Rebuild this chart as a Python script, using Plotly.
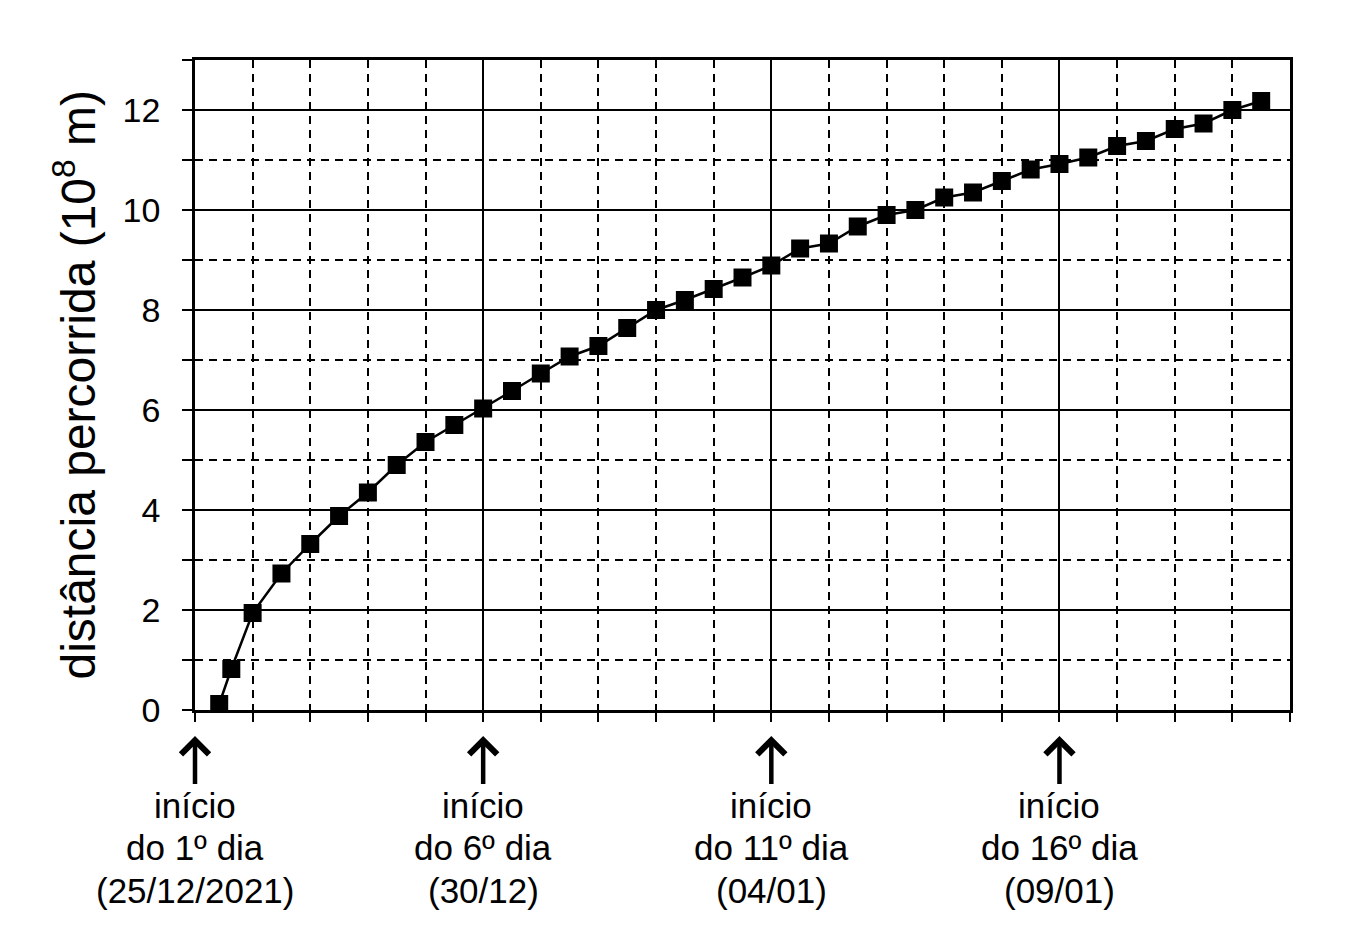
import plotly.graph_objects as go

# Distance travelled (x in days since start, y in 10^8 m)
days = [0.42, 0.63, 1.0, 1.5, 2.0, 2.5, 3.0, 3.5, 4.0, 4.5,
        5.0, 5.5, 6.0, 6.5, 7.0, 7.5, 8.0, 8.5, 9.0, 9.5,
        10.0, 10.5, 11.0, 11.5, 12.0, 12.5, 13.0, 13.5, 14.0, 14.5,
        15.0, 15.5, 16.0, 16.5, 17.0, 17.5, 18.0, 18.5]
distance = [0.12, 0.82, 1.94, 2.73, 3.32, 3.88, 4.35, 4.90, 5.36, 5.70,
            6.03, 6.38, 6.73, 7.07, 7.28, 7.64, 8.00, 8.20, 8.42, 8.65,
            8.89, 9.23, 9.33, 9.67, 9.90, 10.00, 10.25, 10.35, 10.58, 10.81,
            10.92, 11.05, 11.28, 11.38, 11.62, 11.73, 12.00, 12.18]

# Day markers below the x axis, one list of text lines per marker
marker_days = [0, 5, 10, 15]
marker_lines = [
    ["início", "do 1º dia", "(25/12/2021)"],
    ["início", "do 6º dia", "(30/12)"],
    ["início", "do 11º dia", "(04/01)"],
    ["início", "do 16º dia", "(09/01)"],
]

FONT = "Liberation Sans, Arial, sans-serif"

fig = go.Figure()
fig.add_trace(go.Scatter(
    x=days, y=distance,
    mode="lines+markers",
    line=dict(color="black", width=2.5),
    marker=dict(symbol="square", size=18, color="black"),
    cliponaxis=False,
))

axis_common = dict(
    showline=True, linecolor="black", linewidth=2.5, mirror=True,
    showgrid=True, gridcolor="black", gridwidth=2,
    ticks="outside", tickcolor="black", tickwidth=2,
    zeroline=False,
    tickfont=dict(family=FONT, size=34, color="black"),
)

fig.update_xaxes(
    **axis_common,
    range=[0, 19], dtick=5, tick0=0, ticklen=9,
    showticklabels=False,
    minor=dict(dtick=1, tick0=0, showgrid=True, gridcolor="black", gridwidth=1.8,
               griddash="8px,6px", ticks="outside", ticklen=9, tickcolor="black", tickwidth=2),
)
fig.update_yaxes(
    **axis_common,
    range=[0, 13], dtick=2, tick0=0, ticklen=10,
    ticklabelstandoff=15,
    minor=dict(dtick=1, tick0=0, showgrid=True, gridcolor="black", gridwidth=1.8,
               griddash="8px,6px", ticks="outside", ticklen=10, tickcolor="black", tickwidth=2),
)

annotations = [dict(
    x=-0.11, y=0.5, xref="paper", yref="paper",
    text="distância percorrida (10<sup>8</sup> m)",
    textangle=-90, showarrow=False, xanchor="center", yanchor="middle",
    font=dict(family=FONT, size=48, color="black"),
)]
line_y = [-0.146, -0.212, -0.278]
for d, lines in zip(marker_days, marker_lines):
    # first line carries the upward arrow to the start of the day
    annotations.append(dict(
        x=d, y=-0.04, xref="x", yref="paper", text=lines[0],
        showarrow=True, arrowhead=4, arrowsize=1.2, arrowwidth=4.5,
        arrowcolor="black", ax=0, ay=69, standoff=0,
        font=dict(family=FONT, size=35, color="black"),
    ))
    for txt, yy in zip(lines[1:], line_y[1:]):
        annotations.append(dict(
            x=d, y=yy, xref="x", yref="paper", text=txt,
            showarrow=False, xanchor="center", yanchor="middle",
            font=dict(family=FONT, size=35, color="black"),
        ))

fig.update_layout(
    width=1329, height=925,
    margin=dict(l=187, r=47, t=52, b=223),
    plot_bgcolor="white", paper_bgcolor="white",
    showlegend=False,
    annotations=annotations,
)

fig.write_html("out.html")
